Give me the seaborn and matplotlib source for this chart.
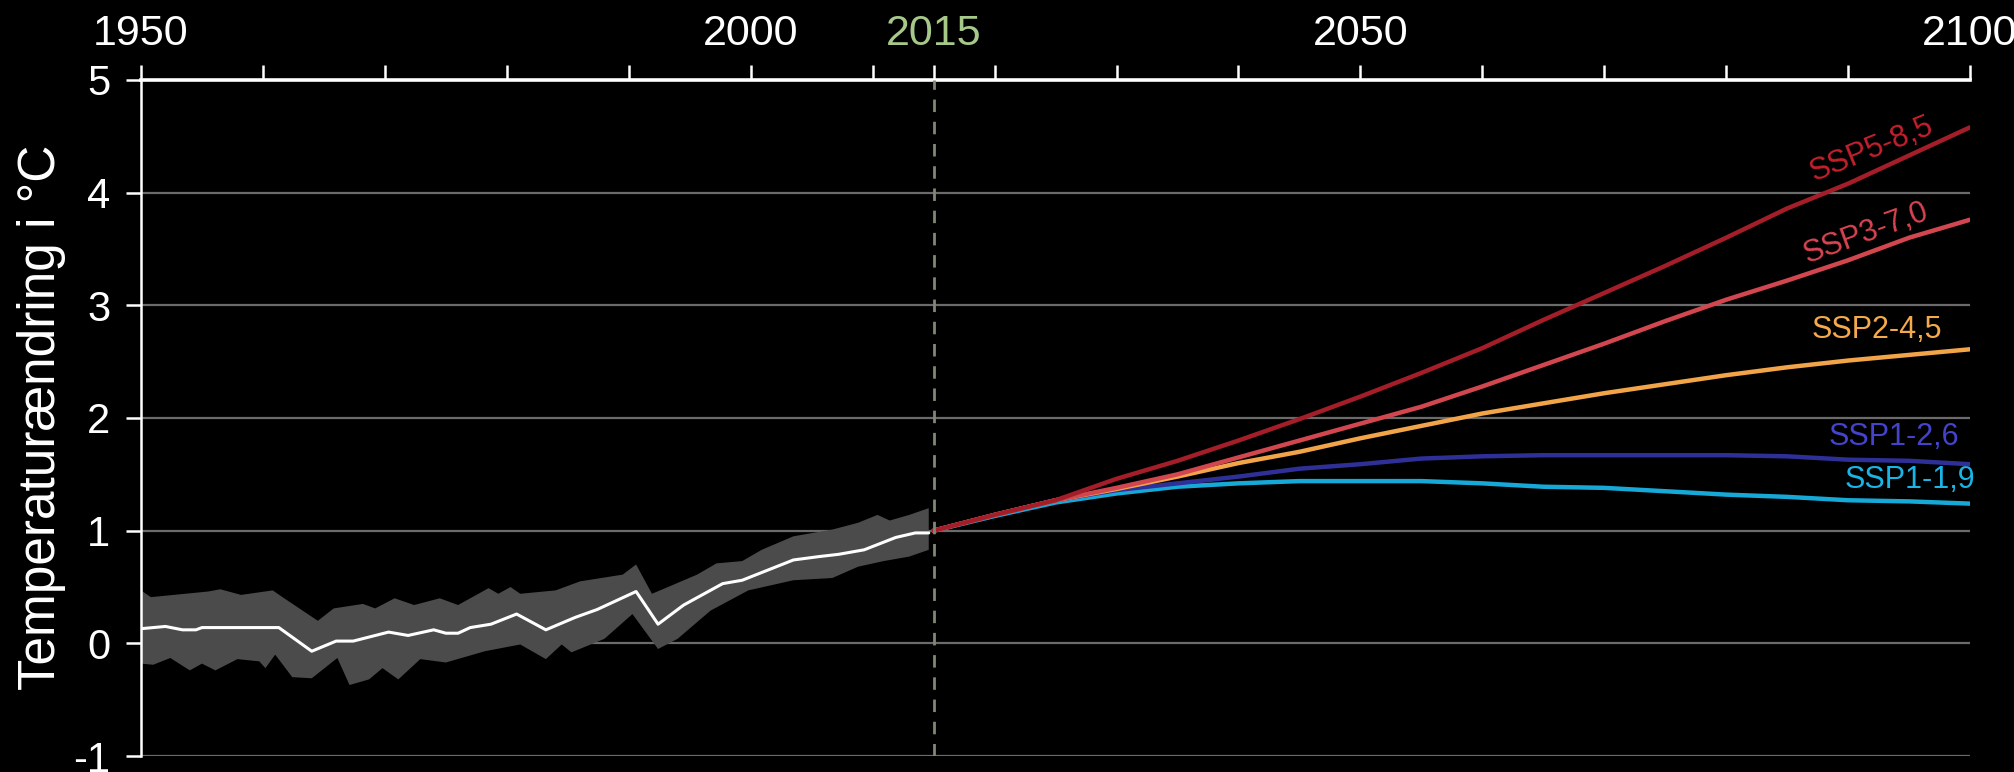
import numpy as np
import pandas as pd
import matplotlib
matplotlib.use("Agg")
import matplotlib.pyplot as plt
import seaborn as sns

# historical observations (white line) and spread (grey band)
hist_years = [1950, 1952, 1953.4, 1954.5, 1955, 1961.3, 1964, 1966, 1967.4, 1970.3, 1971.9,
              1974, 1975, 1976, 1977, 1978.7, 1980.8, 1983.2, 1985.6, 1987.4, 1990.6,
              1992.4, 1994.5, 1997.7, 1999.3, 2001.4, 2003.5, 2005.6, 2007.2, 2009.3,
              2011.9, 2013.5, 2014.6]
hist_temp = [0.13, 0.15, 0.12, 0.12, 0.14, 0.14, -0.07, 0.02, 0.02, 0.10, 0.07,
             0.12, 0.09, 0.09, 0.14, 0.17, 0.26, 0.12, 0.23, 0.30, 0.46,
             0.17, 0.34, 0.53, 0.56, 0.65, 0.74, 0.77, 0.79, 0.83,
             0.94, 0.98, 0.98]

band_up_years = [1950, 1950.8, 1955.5, 1956.5, 1958.2, 1960.8, 1961.6, 1964.5, 1965.8, 1968.2,
                 1969.2, 1970.8, 1972.4, 1974.5, 1976, 1978.5, 1979.3, 1980.3, 1981.1, 1984,
                 1986, 1989.5, 1990.6, 1991.9, 1993, 1995.6, 1997.2, 1999.3, 2000.9, 2003.5,
                 2006.7, 2008.8, 2010.4, 2011.4, 2013, 2014.6]
band_upper = [0.47, 0.41, 0.46, 0.48, 0.43, 0.47, 0.41, 0.20, 0.31, 0.35,
              0.31, 0.40, 0.34, 0.40, 0.34, 0.49, 0.44, 0.50, 0.44, 0.47,
              0.55, 0.61, 0.70, 0.44, 0.49, 0.61, 0.71, 0.73, 0.83, 0.95,
              1.01, 1.07, 1.14, 1.09, 1.14, 1.20]

band_lo_years = [1950, 1951, 1952.4, 1954, 1955, 1956.1, 1957.9, 1959.7, 1960.2, 1961,
                 1962.4, 1964, 1966.1, 1967.1, 1968.7, 1969.8, 1971.1, 1972.9, 1975,
                 1978.2, 1981.1, 1983.2, 1984.5, 1985.3, 1988, 1990.3, 1992.4, 1994,
                 1996.7, 1999.8, 2003.5, 2006.7, 2008.8, 2010.9, 2013, 2014.6]
band_lower = [-0.18, -0.19, -0.13, -0.24, -0.18, -0.24, -0.14, -0.16, -0.22, -0.10,
              -0.30, -0.31, -0.13, -0.37, -0.32, -0.22, -0.32, -0.14, -0.17,
              -0.07, -0.01, -0.14, -0.01, -0.08, 0.04, 0.26, -0.05, 0.04,
              0.29, 0.47, 0.56, 0.58, 0.68, 0.73, 0.77, 0.83]

# scenario projections
proj_years = list(range(2015, 2101, 5))
ssp585 = [1.00, 1.14, 1.27, 1.46, 1.62, 1.80, 1.99, 2.19, 2.40, 2.62, 2.87, 3.11, 3.35, 3.60, 3.86, 4.08, 4.33, 4.58]
ssp370 = [1.00, 1.14, 1.27, 1.38, 1.50, 1.65, 1.80, 1.95, 2.10, 2.28, 2.47, 2.66, 2.86, 3.05, 3.22, 3.40, 3.60, 3.76]
ssp245 = [1.00, 1.14, 1.27, 1.37, 1.48, 1.60, 1.70, 1.82, 1.93, 2.04, 2.13, 2.22, 2.30, 2.38, 2.45, 2.51, 2.56, 2.61]
ssp126 = [1.00, 1.14, 1.27, 1.36, 1.42, 1.48, 1.55, 1.59, 1.64, 1.66, 1.67, 1.67, 1.67, 1.67, 1.66, 1.63, 1.62, 1.59]
ssp119 = [1.00, 1.13, 1.25, 1.33, 1.39, 1.42, 1.44, 1.44, 1.44, 1.42, 1.39, 1.38, 1.35, 1.32, 1.30, 1.27, 1.26, 1.24]

scenarios = ["SSP5-8,5", "SSP3-7,0", "SSP2-4,5", "SSP1-2,6", "SSP1-1,9"]
line_colors = ["#a41e2a", "#d2474f", "#f2a448", "#2f2f98", "#16a9d8"]
label_colors = ["#c4202e", "#d94452", "#f4a94c", "#4343cc", "#19b5e6"]
# label anchor (right end: year, value) and rotation
label_x = [2096.9, 2096.5, 2097.7, 2099.1, 2100.4]
label_y = [4.60, 3.84, 2.78, 1.83, 1.45]
label_rot = [22, 20, 0, 0, 0]

top_ticks = list(range(1950, 2101, 10)) + [2015]
top_labels = {1950: "1950", 2000: "2000", 2015: "2015", 2050: "2050", 2100: "2100"}

sns.set_style("dark", {"axes.facecolor": "black", "figure.facecolor": "black"})
plt.rcParams['font.family'] = ['Liberation Sans', 'DejaVu Sans']

proj = pd.DataFrame({
    "year": proj_years * 5,
    "temp": ssp585 + ssp370 + ssp245 + ssp126 + ssp119,
    "scenario": sum([[s] * len(proj_years) for s in scenarios], []),
})

fig = plt.figure(figsize=(20.15, 7.72), dpi=100)
ax = fig.add_axes([0.070, 0.0207, 0.9077, 0.8757])
ax.set_facecolor("black")

ax.fill(np.r_[band_up_years, band_lo_years[::-1]], np.r_[band_upper, band_lower[::-1]],
        color="#4b4b4b", lw=0, zorder=2)
ax.plot(hist_years, hist_temp, color="white", lw=2.2, zorder=3)

# draw low scenarios last so they sit on top
sns.lineplot(data=proj, x="year", y="temp", hue="scenario", hue_order=scenarios[::-1],
             palette=dict(zip(scenarios, line_colors)), lw=3.2, legend=False, ax=ax, zorder=4)
ax.set_xlabel("")
ax.set_ylabel("")

for s, c, x, y, r in zip(scenarios, label_colors, label_x, label_y, label_rot):
    ax.text(x, y, s, color=c, fontsize=22, ha="right", va="center", rotation=r,
            rotation_mode="anchor")

ax.axvline(2015, color="#7e8873", lw=2, dashes=(4.5, 3.5), zorder=5)

ax.set_xlim(1950, 2100)
ax.set_ylim(-1, 5)
ax.set_yticks(range(-1, 6))
ax.set_yticklabels([str(v) for v in range(-1, 6)])
ax.yaxis.grid(True, color="#6b6b6b", lw=1.6)
ax.xaxis.grid(False)

ax.xaxis.tick_top()
ax.set_xticks(top_ticks)
ax.set_xticklabels([top_labels.get(t, "") for t in top_ticks])
ax.tick_params(axis="x", which="major", top=True, bottom=False, direction="out", length=11,
               width=1.8, color="white", labelcolor="white", labelsize=31, pad=8)
ax.tick_params(axis="y", direction="out", length=11, width=1.8, color="white",
               labelcolor="white", labelsize=30, pad=11, left=True)
for t, lab, tk in zip(top_ticks, ax.get_xticklabels(), ax.xaxis.get_major_ticks()):
    if t == 2015:
        lab.set_color("#a6c98a")
        tk.tick2line.set_color("#a6c98a")

for side in ["right", "bottom"]:
    ax.spines[side].set_visible(False)
ax.spines["top"].set_color("white")
ax.spines["top"].set_linewidth(2.6)
ax.spines["left"].set_color("white")
ax.spines["left"].set_linewidth(1.8)

fig.text(0.0205, 0.46, "Temperaturændring i °C", color="white", fontsize=37,
         rotation=90, ha="center", va="center")

fig.savefig("out.png", dpi=100, facecolor="black")
